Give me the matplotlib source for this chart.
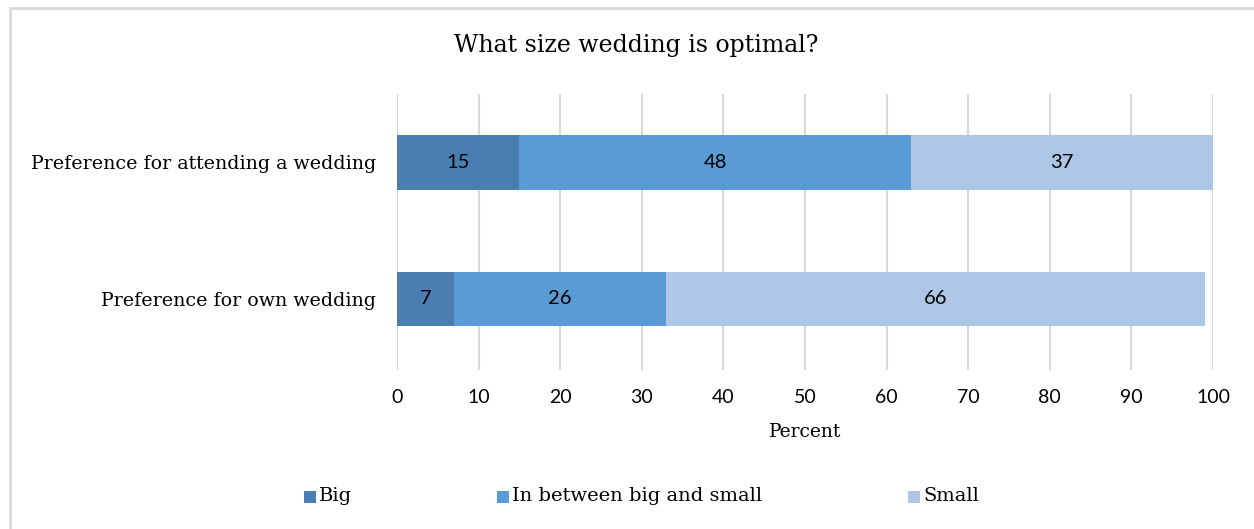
import matplotlib
matplotlib.use("Agg")
import matplotlib.pyplot as plt
from matplotlib.patches import Rectangle

# Survey data
categories = ["Preference for own wedding", "Preference for attending a wedding"]
series_names = ["Big", "In between big and small", "Small"]
big = [7, 15]
between = [26, 48]
small = [66, 37]
colors = ["#4A7EB0", "#5B9BD5", "#ADC6E6"]
x_ticks = [0, 10, 20, 30, 40, 50, 60, 70, 80, 90, 100]

serif = "DejaVu Serif"
sans = "Lato"

W, H = 1254, 529
fig = plt.figure(figsize=(W / 100, H / 100), dpi=100)
fig.patch.set_facecolor("white")

# Chart frame
fig.patches.append(Rectangle((10 / W, -0.1), 1.2, 1 - 8 / H + 0.1, transform=fig.transFigure,
                             fill=False, edgecolor="#D9D9D9", linewidth=2))

ax = fig.add_axes([397 / W, 1 - 370 / H, (1213 - 397) / W, (370 - 94) / H])
y = [0, 1]
h = 0.40
left = [0, 0]
for vals, name, c in zip([big, between, small], series_names, colors):
    ax.barh(y, vals, left=left, height=h, color=c, label=name, zorder=3)
    for yi, v, l in zip(y, vals, left):
        ax.text(l + v / 2, yi, f"{v}", ha="center", va="center", fontsize=14.5,
                family=sans, color="black", zorder=4)
    left = [a + b for a, b in zip(left, vals)]

ax.set_xlim(0, 100)
ax.set_ylim(-0.52, 1.5)
ax.set_xticks(x_ticks)
ax.set_xticklabels([str(t) for t in x_ticks], family=sans, fontsize=14)
ax.set_yticks(y)
ax.set_yticklabels(categories, family=serif, fontsize=13.7)
ax.tick_params(length=0, pad=14, axis="x")
ax.tick_params(length=0, pad=15, axis="y")
ax.grid(axis="x", color="#D9D9D9", linewidth=1.5, zorder=0)
for s in ax.spines.values():
    s.set_visible(False)
ax.set_xlabel("Percent", family=serif, fontsize=13.5, labelpad=12)

fig.text(636 / W, 1 - 46 / H, "What size wedding is optimal?", ha="center", va="center",
         family=serif, fontsize=17)

# Legend
leg_x = [304, 497, 908]
for lx, name, c in zip(leg_x, series_names, colors):
    fig.patches.append(Rectangle((lx / W, 1 - 503 / H), 12 / W, 12 / H,
                                 transform=fig.transFigure, facecolor=c, edgecolor="none"))
    fig.text((lx + 15) / W, 1 - 496 / H, name, ha="left", va="center", family=serif, fontsize=14)

fig.savefig("out.png", dpi=100)
